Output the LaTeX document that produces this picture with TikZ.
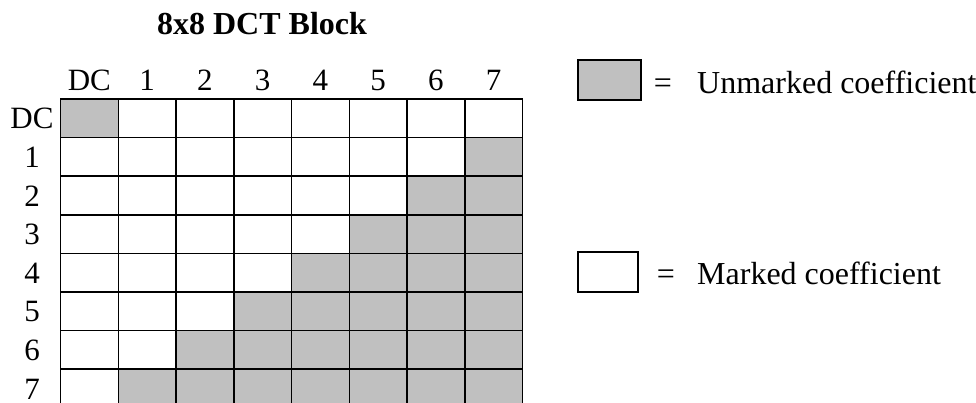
\documentclass[tikz,border=0pt]{standalone}
\usepackage{fontspec}
\setmainfont{Liberation Serif}
\definecolor{cellgray}{HTML}{C0C0C0}
\begin{document}
\begin{tikzpicture}[x=1pt,y=-1pt,
  cellbox/.style={draw=black,line width=1.5pt,minimum width=57.75pt,minimum height=38.6pt,inner sep=0pt,outer sep=0pt,anchor=north west},
  graycell/.style={cellbox,fill=cellgray},
  whitecell/.style={cellbox,fill=white},
  lbl/.style={font=\fontsize{31}{36}\selectfont,anchor=base,inner sep=0pt},
  legendbox/.style={draw=black,line width=1.2pt,inner sep=0pt,outer sep=0pt,anchor=north west}]
\clip (0,0) rectangle (976,402);
\fill[white] (0,0) rectangle (976,402);
% title
\node[lbl,font=\fontsize{32}{38}\selectfont\bfseries] (title) at (262,34) {8x8 DCT Block};
% grid cells
\foreach \r in {0,...,7}{
  \foreach \c in {0,...,7}{
    \pgfmathtruncatemacro{\s}{\r+\c}
    \ifnum\r=0
      \ifnum\c=0
        \node[graycell] (cell-\r-\c) at ({60.5+57.75*\c},{99+38.6*\r}) {};
      \else
        \node[whitecell] (cell-\r-\c) at ({60.5+57.75*\c},{99+38.6*\r}) {};
      \fi
    \else
      \ifnum\s>7
        \node[graycell] (cell-\r-\c) at ({60.5+57.75*\c},{99+38.6*\r}) {};
      \else
        \node[whitecell] (cell-\r-\c) at ({60.5+57.75*\c},{99+38.6*\r}) {};
      \fi
    \fi
  }
}
% column headers
\foreach \c/\t in {0/DC,1/1,2/2,3/3,4/4,5/5,6/6,7/7}{
  \node[lbl] (col-\c) at ({60.5+57.75*(\c+0.5)},90.7) {\t};
}
% row headers
\foreach \r/\t in {0/DC,1/1,2/2,3/3,4/4,5/5,6/6,7/7}{
  \node[lbl] (row-\r) at (32,{99+38.6*(\r+0.5)+10.5}) {\t};
}
% legend
\node[legendbox,fill=cellgray,minimum width=63pt,minimum height=40pt] (legU) at (578,60) {};
\node[lbl,font=\fontsize{32}{38}\selectfont] (eqU) at (663,93) {=};
\node[lbl,font=\fontsize{32}{38}\selectfont,anchor=base west] (txtU) at (697,93) {Unmarked coefficient};
\node[legendbox,fill=white,minimum width=60pt,minimum height=40pt] (legM) at (578,252) {};
\node[lbl,font=\fontsize{32}{38}\selectfont] (eqM) at (666,284) {=};
\node[lbl,font=\fontsize{32}{38}\selectfont,anchor=base west] (txtM) at (697,284) {Marked coefficient};
\end{tikzpicture}
\end{document}
